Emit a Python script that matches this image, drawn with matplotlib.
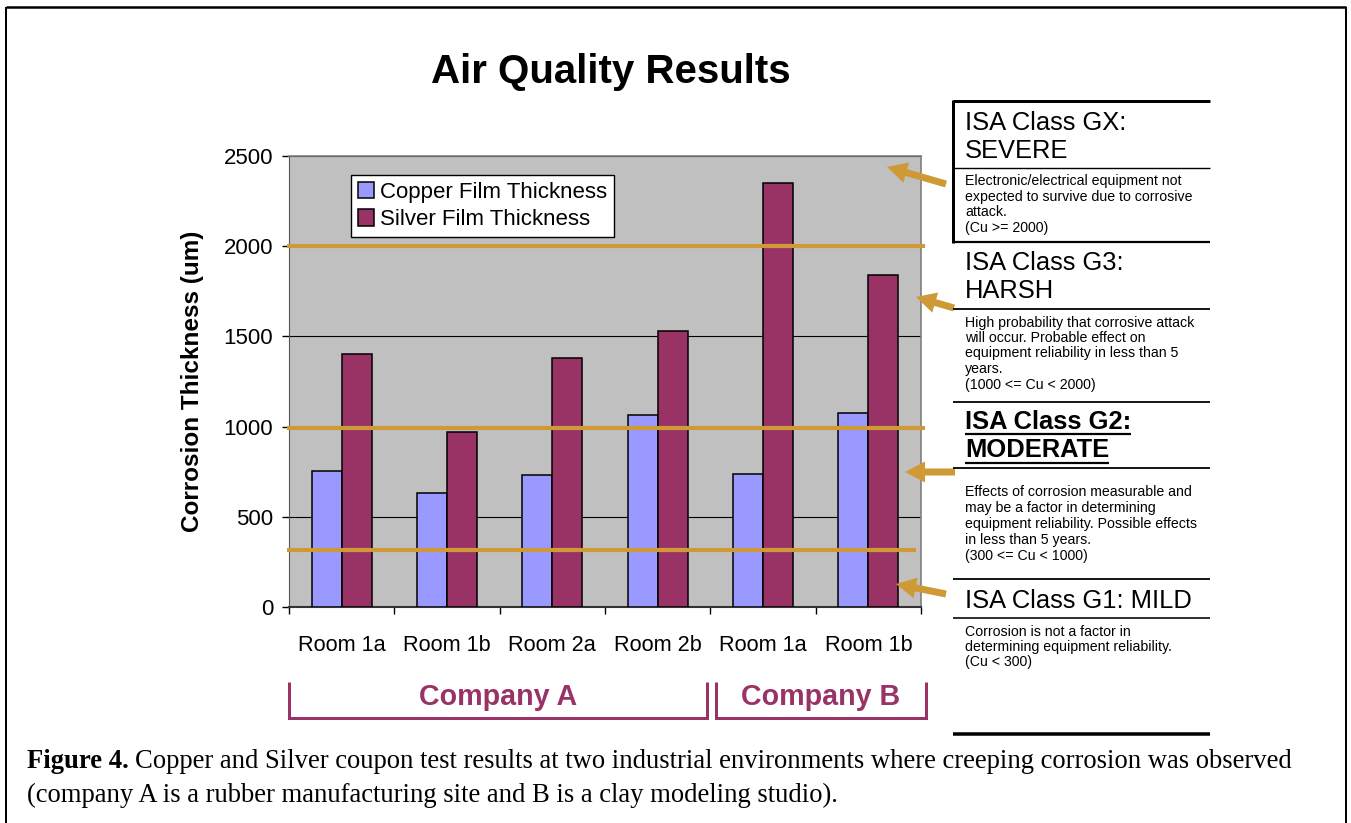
import matplotlib
matplotlib.use("Agg")
import matplotlib.pyplot as plt
import numpy as np

# ---------------- data ----------------
categories = ["Room 1a", "Room 1b", "Room 2a", "Room 2b", "Room 1a", "Room 1b"]
copper = [756, 631, 731, 1065, 738, 1074]
silver = [1402, 969, 1382, 1531, 2352, 1843]
threshold_lines = [2000, 990, 315]
y_ticks = [0, 500, 1000, 1500, 2000, 2500]
companies = ["Company A", "Company B"]

W, H = 1351, 823
DPI = 100
ORANGE = "#CF9A36"
PURPLE = "#993366"
COPPER_C = "#9999FF"
SILVER_C = "#993366"

plt.rcParams['font.family'] = ['Liberation Sans', 'DejaVu Sans']

fig = plt.figure(figsize=(W / DPI, H / DPI), dpi=DPI)
fig.patch.set_facecolor("white")

def fx(x):
    return x / W

def fy(y):
    return 1 - y / H

# main axes in pixel box
L, R, T, B = 289, 921, 156, 607
ax = fig.add_axes([fx(L), fy(B), (R - L) / W, (B - T) / H])
ax.set_facecolor("#C0C0C0")
x = np.arange(len(categories))
bw = 0.285
ax.bar(x - bw / 2, copper, bw, color=COPPER_C, edgecolor="black", linewidth=1.1,
       label="Copper Film Thickness", zorder=3)
ax.bar(x + bw / 2, silver, bw, color=SILVER_C, edgecolor="black", linewidth=1.1,
       label="Silver Film Thickness", zorder=3)
ax.set_xlim(-0.5, len(categories) - 0.5)
ax.set_ylim(0, 2500)
ax.set_yticks(y_ticks)
ax.set_yticklabels([str(v) for v in y_ticks], fontsize=16)
ax.yaxis.grid(True, color="black", linewidth=0.8, zorder=1)
ax.set_axisbelow(True)
ax.set_xticks(np.arange(-0.5, len(categories), 1.0))
ax.set_xticklabels([])
ax.set_xticks(x, minor=True)
ax.set_xticklabels(categories, minor=True, fontsize=15.6)
ax.tick_params(axis="x", which="minor", length=0, pad=20)
ax.tick_params(axis="x", which="major", length=5, direction="out", width=1)
ax.tick_params(axis="y", length=5, direction="out", width=1, pad=6.5)
for s in ["top", "right"]:
    ax.spines[s].set_color("#808080")
    ax.spines[s].set_linewidth(1.2)
ax.spines["left"].set_color("#555555")
ax.spines["bottom"].set_color("#333333")
ax.spines["bottom"].set_linewidth(1.5)

fig.text(fx(192), fy(381), "Corrosion Thickness (um)", fontsize=17.5,
         fontweight="bold", rotation=90, ha="center", va="center")

# threshold lines (on top of bars)
ends = [5.54, 5.54, 5.455]
for yv, xe in zip(threshold_lines, ends):
    ax.plot([-0.52, xe], [yv, yv], color=ORANGE, linewidth=3.0, zorder=5,
            clip_on=False, solid_capstyle="butt")

leg = ax.legend(loc="upper left", bbox_to_anchor=(fx(351), fy(175)),
                bbox_transform=fig.transFigure, borderaxespad=0, fontsize=16,
                fancybox=False, edgecolor="black", framealpha=1,
                handlelength=0.75, handleheight=0.75, handletextpad=0.25,
                labelspacing=0.3, borderpad=0.3)
leg.get_frame().set_linewidth(1.0)
leg.set_zorder(10)

# title
fig.text(fx(611), fy(72), "Air Quality Results", fontsize=29, fontweight="bold",
         ha="center", va="center")

# overlay axes in pixel coordinates
ov = fig.add_axes([0, 0, 1, 1], zorder=20)
ov.set_xlim(0, W)
ov.set_ylim(H, 0)
ov.axis("off")
ov.patch.set_alpha(0)

def pw(px):
    return px * 72 / DPI

# outer frame
ov.plot([6, 6], [7, H + 5], color="black", lw=pw(2), solid_capstyle="butt")
ov.plot([6, 1346], [7, 7], color="black", lw=pw(2.5), solid_capstyle="butt")
ov.plot([1346, 1346], [7, H + 5], color="black", lw=pw(2), solid_capstyle="butt")

# arrows
arrows = [((946, 184), (887, 167)), ((954, 308), (916, 297)),
          ((955, 472), (905, 472)), ((946, 594), (896, 584))]
for (x0, y0), (x1, y1) in arrows:
    ov.arrow(x0, y0, x1 - x0, y1 - y0, width=7, head_width=21, head_length=20,
             length_includes_head=True, color=ORANGE, lw=0)

# right panel lines
PL, PR = 953, 1210
hlines = [(101, 3), (168, 1.4), (242, 2.2), (309, 1.8), (402, 1.8),
          (468, 1.8), (579, 1.8), (618, 1.6), (734, 3.5)]
for yv, lw in hlines:
    ov.plot([PL, PR], [yv, yv], color="black", lw=pw(lw), solid_capstyle="butt")
ov.plot([PL, PL], [100, 243], color="black", lw=pw(3), solid_capstyle="butt")

TX = 965
head_fs = 18.4
body_fs = 10.2
ov.text(TX, 123, "ISA Class GX:", fontsize=head_fs, va="center")
ov.text(TX, 151, "SEVERE", fontsize=head_fs, va="center")
for yy, t in zip([181, 197, 212, 228],
                 ["Electronic/electrical equipment not",
                  "expected to survive due to corrosive",
                  "attack.", "(Cu >= 2000)"]):
    ov.text(TX, yy, t, fontsize=body_fs, va="center")

ov.text(TX, 263, "ISA Class G3:", fontsize=head_fs, va="center")
ov.text(TX, 291, "HARSH", fontsize=head_fs, va="center")
for yy, t in zip([323, 338, 353, 369, 385],
                 ["High probability that corrosive attack",
                  "will occur. Probable effect on",
                  "equipment reliability in less than 5",
                  "years.", "(1000 <= Cu < 2000)"]):
    ov.text(TX, yy, t, fontsize=body_fs, va="center")

t1 = ov.text(TX, 422, "ISA Class G2:", fontsize=head_fs, va="center", fontweight="bold")
t2 = ov.text(TX, 450, "MODERATE", fontsize=head_fs, va="center", fontweight="bold")
for yy, t in zip([492, 508, 524, 540, 556],
                 ["Effects of corrosion measurable and",
                  "may be a factor in determining",
                  "equipment reliability. Possible effects",
                  "in less than 5 years.", "(300 <= Cu < 1000)"]):
    ov.text(TX, yy, t, fontsize=body_fs, va="center")

ov.text(TX, 601, "ISA Class G1: MILD", fontsize=head_fs, va="center")
for yy, t in zip([632, 647, 662],
                 ["Corrosion is not a factor in",
                  "determining equipment reliability.",
                  "(Cu < 300)"]):
    ov.text(TX, yy, t, fontsize=body_fs, va="center")

# company brackets
brackets = [(289, 707), (716, 926)]
for (bx0, bx1), name in zip(brackets, companies):
    ov.plot([bx0, bx0, bx1, bx1], [682, 718, 718, 682], color=PURPLE,
            lw=pw(3), solid_joinstyle="miter", solid_capstyle="butt")
    ov.text((bx0 + bx1) / 2, 697, name, fontsize=20.6, fontweight="bold",
            color=PURPLE, ha="center", va="center")

# caption: size fitted so that the second line spans x=27..841
cap_line1 = "Copper and Silver coupon test results at two industrial environments where creeping corrosion was observed"
cap_line2 = "(company A is a rubber manufacturing site and B is a clay modeling studio)."
fig.canvas.draw()
r = fig.canvas.get_renderer()
inv = ov.transData.inverted()

probe = ov.text(0, 0, cap_line2, fontsize=20, family="Liberation Serif")
w20 = probe.get_window_extent(r).width
probe.remove()
cap_fs = 20 * (841 - 27) / w20

c1 = ov.text(27, 762, "Figure 4.", fontsize=cap_fs, fontweight="bold",
             family="Liberation Serif", va="center")
ov.text(27, 795, cap_line2, fontsize=cap_fs, family="Liberation Serif", va="center")
bb = c1.get_window_extent(r)
xe = inv.transform((bb.x1, bb.y0))[0]
sp = cap_fs * 0.25 * DPI / 72
ov.text(xe + sp, 762, cap_line1, fontsize=cap_fs, family="Liberation Serif", va="center")

for t, uy in [(t1, 434), (t2, 463)]:
    bb = t.get_window_extent(r)
    xa = inv.transform((bb.x0, bb.y0))[0]
    xb = inv.transform((bb.x1, bb.y0))[0]
    ov.plot([xa, xb], [uy, uy], color="black", lw=pw(2.2), solid_capstyle="butt")

fig.savefig("out.png", dpi=DPI)
